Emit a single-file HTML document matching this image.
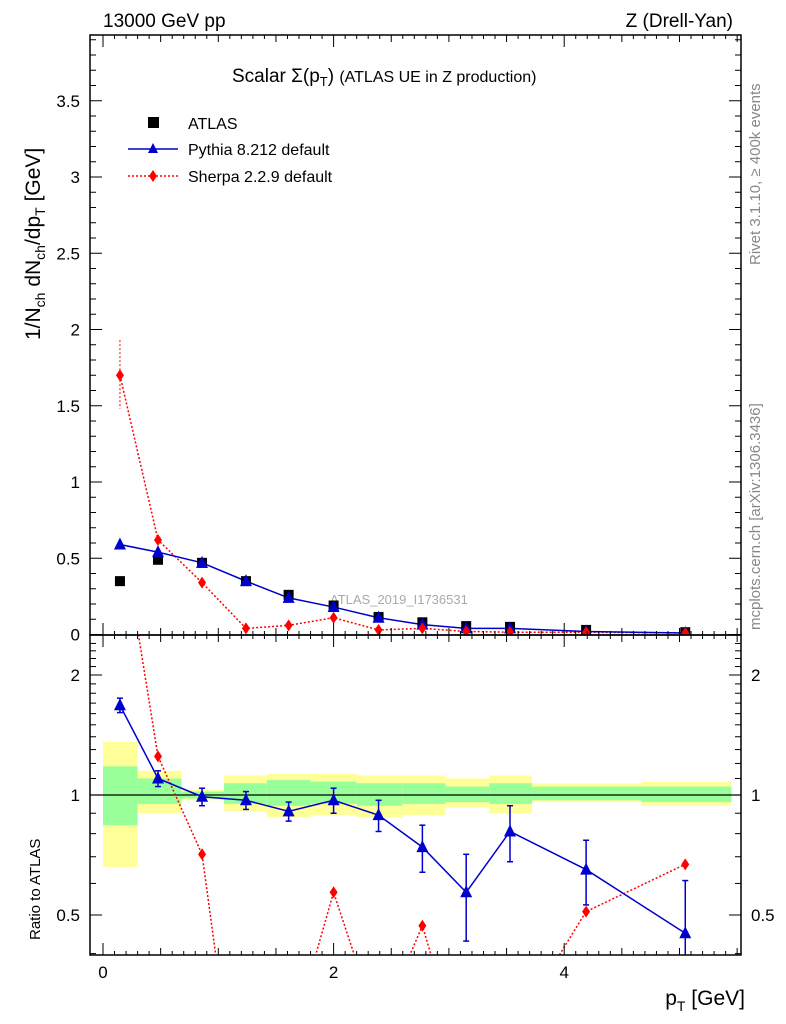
<!DOCTYPE html>
<html><head><meta charset="utf-8"><style>
html,body{margin:0;padding:0;background:#fff;width:786px;height:1024px;overflow:hidden}
svg{display:block;font-family:"Liberation Sans",sans-serif}
</style></head><body>
<svg id="c" width="786" height="1024" xmlns="http://www.w3.org/2000/svg">
<text x="103" y="27" font-size="19">13000 GeV pp</text>
<text x="733" y="27" font-size="19" text-anchor="end">Z (Drell-Yan)</text>
<text x="232" y="82" font-size="19">Scalar Σ(p<tspan font-size="13" dy="4">T</tspan><tspan dy="-4">) </tspan><tspan font-size="16">(ATLAS UE in Z production)</tspan></text>
<text transform="translate(760,265) rotate(-90)" font-size="15" fill="#888">Rivet 3.1.10, ≥ 400k events</text>
<text transform="translate(760,630) rotate(-90)" font-size="15" fill="#888">mcplots.cern.ch [arXiv:1306.3436]</text>
<text transform="translate(40,340) rotate(-90)" font-size="21">1/N<tspan font-size="14" dy="5">ch</tspan><tspan dy="-5"> dN</tspan><tspan font-size="14" dy="5">ch</tspan><tspan dy="-5">/dp</tspan><tspan font-size="14" dy="5">T</tspan><tspan dy="-5"> [GeV]</tspan></text>
<text transform="translate(40,940) rotate(-90)" font-size="15">Ratio to ATLAS</text>
<text x="745" y="1005" font-size="21" text-anchor="end">p<tspan font-size="14" dy="6">T</tspan><tspan dy="-6"> [GeV]</tspan></text>
<text x="330" y="604" font-size="13" fill="#aaa">ATLAS_2019_I1736531</text>
<g id="bands"></g><g id="marks"></g><g id="axes"></g>
<g>
<rect x="148" y="117" width="11" height="11" fill="#000"/>
<text x="188" y="129" font-size="16">ATLAS</text>
<line x1="128" y1="149" x2="178" y2="149" stroke="#00c" stroke-width="1.5"/>
<path d="M153,143 L158,153 L148,153Z" fill="#00c"/>
<text x="188" y="155" font-size="16">Pythia 8.212 default</text>
<line x1="128" y1="176" x2="178" y2="176" stroke="red" stroke-width="1.5" stroke-dasharray="2,2"/>
<path d="M153,170 L157,176 L153,182 L149,176Z" fill="red"/>
<text x="188" y="182" font-size="16">Sherpa 2.2.9 default</text>
</g>
</svg>
<script>
const xCenters=[0.147,0.477,0.859,1.24,1.61,2.0,2.39,2.77,3.15,3.53,4.19,5.05];
const binEdges=[0,0.3,0.68,1.05,1.42,1.8,2.2,2.6,2.97,3.35,3.72,4.67,5.45];
const atlas=[0.35,0.49,0.47,0.35,0.26,0.19,0.115,0.08,0.055,0.05,0.03,0.015];
const pythia=[0.59,0.54,0.47,0.35,0.24,0.18,0.11,0.065,0.04,0.04,0.02,0.01];
const sherpa=[1.70,0.62,0.34,0.04,0.06,0.11,0.03,0.04,0.02,0.015,0.015,0.01];
const pythiaRatio=[1.68,1.10,0.99,0.97,0.91,0.97,0.89,0.74,0.57,0.81,0.65,0.45];
const pythiaRatioErr=[0.07,0.05,0.05,0.05,0.05,0.07,0.08,0.1,0.14,0.13,0.12,0.16];
const sherpaRatio=[4.9,1.25,0.71,0.11,0.23,0.57,0.26,0.47,0.2,0.25,0.51,0.67];
const yellowLo=[0.66,0.90,0.97,0.91,0.88,0.89,0.88,0.89,0.93,0.90,0.96,0.94];
const yellowHi=[1.36,1.15,1.03,1.12,1.13,1.13,1.12,1.12,1.10,1.12,1.07,1.08];
const greenLo=[0.84,0.95,0.98,0.95,0.94,0.95,0.94,0.95,0.96,0.95,0.97,0.96];
const greenHi=[1.18,1.10,1.02,1.07,1.09,1.08,1.07,1.07,1.05,1.07,1.05,1.05];
const mainTicks=[0,0.5,1,1.5,2,2.5,3,3.5];
const mainTickLabels=["0","0.5","1","1.5","2","2.5","3","3.5"];
const ratioTicks=[0.5,1,2];
const xTicks=[0,2,4];

const NS="http://www.w3.org/2000/svg";
const L=90,R=741,T=35,M=635,B=955;
const X=v=>103+v*115.3;
const Y=v=>634.5-v*152.5;
const YR=r=>795-398.6*Math.log10(r);
function mk(p,t,a){const e=document.createElementNS(NS,t);for(const k in a)e.setAttribute(k,a[k]);document.getElementById(p).appendChild(e);return e;}
for(let i=0;i<yellowLo.length;i++){
 let e=mk('bands','rect',{x:X(binEdges[i]),width:X(binEdges[i+1])-X(binEdges[i]),y:YR(yellowHi[i]),height:YR(yellowLo[i])-YR(yellowHi[i]),fill:'#ffff99'});
 
 
 e=mk('bands','rect',{x:X(binEdges[i]),width:X(binEdges[i+1])-X(binEdges[i]),y:YR(greenHi[i]),height:YR(greenLo[i])-YR(greenHi[i]),fill:'#99ff99'});
 
 
}
let l=mk('bands','line',{x1:L,x2:R,y1:YR(1),y2:YR(1),stroke:'#000','stroke-width':1.2});


const defs=document.createElementNS(NS,'defs');document.getElementById('c').prepend(defs);
defs.innerHTML='<clipPath id="cm"><rect x="90" y="35" width="651" height="600"/></clipPath><clipPath id="cr"><rect x="90" y="635" width="651" height="320"/></clipPath>';
const gm=mk('marks','g',{'clip-path':'url(#cm)'});gm.id='gm';
const gr=mk('marks','g',{'clip-path':'url(#cr)'});gr.id='gr';
function line(g,xs,ys,col,dash,name){const p=mk(g,'polyline',{points:xs.map((x,i)=>X(x)+','+ys[i]).join(' '),fill:'none',stroke:col,'stroke-width':1.5});if(dash)p.setAttribute('stroke-dasharray','2,2');}
function tri(g,x,y,name){const p=mk(g,'path',{d:`M${x},${y-7}L${x+6},${y+5}L${x-6},${y+5}Z`,fill:'#00c'});}
function dia(g,x,y,name){const p=mk(g,'path',{d:`M${x},${y-6}L${x+4},${y}L${x},${y+6}L${x-4},${y}Z`,fill:'red'});}
line('gm',xCenters,sherpa.map(Y),'red',1,'sherpa-line');
line('gm',xCenters,pythia.map(Y),'#00c',0,'pythia-line');
mk('gm','line',{x1:X(xCenters[0]),x2:X(xCenters[0]),y1:Y(1.93),y2:Y(1.48),stroke:'red','stroke-dasharray':'2,2'});
xCenters.forEach((x,i)=>{
 const r=mk('gm','rect',{x:X(x)-5,y:Y(atlas[i])-5,width:10,height:10,fill:'#000'});
 
 
 tri('gm',X(x),Y(pythia[i]),'pythia-point');
 dia('gm',X(x),Y(sherpa[i]),'sherpa-point');
});
line('gr',xCenters,sherpaRatio.map(YR),'red',1,'sherpa-ratio-line');
line('gr',xCenters,pythiaRatio.map(YR),'#00c',0,'pythia-ratio-line');
xCenters.forEach((x,i)=>{
 const a=YR(pythiaRatio[i]+pythiaRatioErr[i]),b=YR(pythiaRatio[i]-pythiaRatioErr[i]);
 mk('gr','line',{x1:X(x),x2:X(x),y1:a,y2:b,stroke:'#00c','stroke-width':1.5});
 mk('gr','line',{x1:X(x)-3,x2:X(x)+3,y1:a,y2:a,stroke:'#00c','stroke-width':1.5});
 mk('gr','line',{x1:X(x)-3,x2:X(x)+3,y1:b,y2:b,stroke:'#00c','stroke-width':1.5});
 tri('gr',X(x),YR(pythiaRatio[i]),'pythia-ratio-point');
 dia('gr',X(x),YR(sherpaRatio[i]),'sherpa-ratio-point');
});
mk('axes','rect',{x:L,y:T,width:R-L,height:M-T,fill:'none',stroke:'#000','stroke-width':1.5});
mk('axes','rect',{x:L,y:M,width:R-L,height:B-M,fill:'none',stroke:'#000','stroke-width':1.5});
mainTicks.forEach((v,i)=>{
 mk('axes','line',{x1:L,x2:L+12,y1:Y(v),y2:Y(v),stroke:'#000'});
 mk('axes','line',{x1:R,x2:R-12,y1:Y(v),y2:Y(v),stroke:'#000'});
 const t=mk('axes','text',{x:L-10,y:Y(v)+6,'font-size':17,'text-anchor':'end'});t.textContent=mainTickLabels[i];
 
 
 for(let k=1;k<5;k++){const yy=Y(v+k*0.1);if(yy>T){mk('axes','line',{x1:L,x2:L+6,y1:yy,y2:yy,stroke:'#000'});mk('axes','line',{x1:R,x2:R-6,y1:yy,y2:yy,stroke:'#000'});}}
});
ratioTicks.forEach(v=>{
 mk('axes','line',{x1:L,x2:L+12,y1:YR(v),y2:YR(v),stroke:'#000'});
 mk('axes','line',{x1:R,x2:R-12,y1:YR(v),y2:YR(v),stroke:'#000'});
 let t=mk('axes','text',{x:L-10,y:YR(v)+6,'font-size':17,'text-anchor':'end'});t.textContent=String(v);
 
 
 t=mk('axes','text',{x:R+10,y:YR(v)+6,'font-size':17});t.textContent=String(v);
 
 
});
for(let r=0.4;r<2.5;r+=0.1){const yy=YR(r);if(yy>M&&yy<B){mk('axes','line',{x1:L,x2:L+6,y1:yy,y2:yy,stroke:'#000'});mk('axes','line',{x1:R,x2:R-6,y1:yy,y2:yy,stroke:'#000'});}}
for(let v=0;v<=5.5;v+=0.5){const xx=X(v),big=Math.abs(v%2)<1e-6;const h=big?12:7;
 [[T,1],[M,1],[M,-1],[B,-1]].forEach(([y0,s])=>mk('axes','line',{x1:xx,x2:xx,y1:y0,y2:y0+s*h,stroke:'#000'}));
 for(let k=1;k<5;k++){const x2=X(v+k*0.1);if(x2<R)[[T,1],[M,1],[M,-1],[B,-1]].forEach(([y0,s])=>mk('axes','line',{x1:x2,x2:x2,y1:y0,y2:y0+s*4,stroke:'#000'}));}
}
xTicks.forEach(v=>{const t=mk('axes','text',{x:X(v),y:978,'font-size':17,'text-anchor':'middle'});t.textContent=String(v);
 
 });
</script>
</body></html>
